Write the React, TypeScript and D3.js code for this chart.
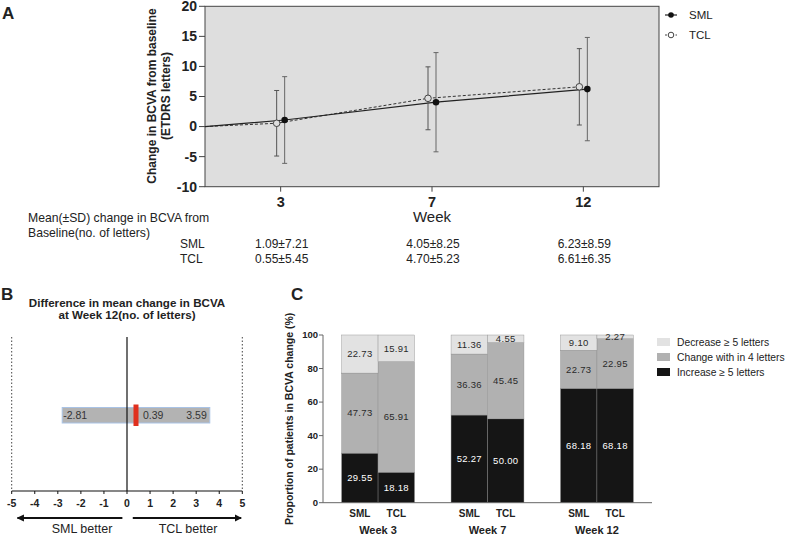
import React from "react";
import * as d3 from "d3";

// ---------- Panel A data ----------
const weeks = ["3", "7", "12"];
const smlMean = [1.09, 4.05, 6.23];
const smlSD = [7.21, 8.25, 8.59];
const tclMean = [0.55, 4.7, 6.61];
const tclSD = [5.45, 5.23, 6.35];
const yTicksA = [-10, -5, 0, 5, 10, 15, 20];
const smlText = ["1.09±7.21", "4.05±8.25", "6.23±8.59"];
const tclText = ["0.55±5.45", "4.70±5.23", "6.61±6.35"];

// ---------- Panel B data ----------
const diffLow = -2.81;
const diffMean = 0.39;
const diffHigh = 3.59;
const xTicksB = [-5, -4, -3, -2, -1, 0, 1, 2, 3, 4, 5];

// ---------- Panel C data ----------
const groupsC = ["Week 3", "Week 7", "Week 12"];
const armsC = ["SML", "TCL"];
const increaseVals = [29.55, 18.18, 52.27, 50.0, 68.18, 68.18];
const changeVals = [47.73, 65.91, 36.36, 45.45, 22.73, 29.55];
const decreaseVals = [22.73, 15.91, 11.36, 4.55, 9.1, 2.27];
const increaseLabels = ["29.55", "18.18", "52.27", "50.00", "68.18", "68.18"];
const changeLabels = ["47.73", "65.91", "36.36", "45.45", "22.73", "22.95"];
const decreaseLabels = ["22.73", "15.91", "11.36", "4.55", "9.10", "2.27"];
const yTicksC = [0, 20, 40, 60, 80, 100];
const legendC = ["Decrease ≥ 5 letters", "Change with in 4 letters", "Increase ≥ 5 letters"];
const colorsC = ["#e2e2e2", "#b1b1b1", "#151515"];

const FONT = "'Liberation Sans', Arial, Helvetica, sans-serif";

export default function App() {
  // ===== Panel A =====
  const xA = d3.scalePoint<string>().domain(weeks).range([205, 659]).padding(0.5);
  const yA = d3.scaleLinear().domain([-10, 20]).range([186.7, 6.3]);
  const x0A = xA.range()[0];
  const offS = 4;
  const offT = -4;
  const lineA = d3.line<[number, number]>().x((d) => d[0]).y((d) => yA(d[1]));
  const smlPts: [number, number][] = [[x0A, 0], ...weeks.map((w, i) => [xA(w)! + offS, smlMean[i]] as [number, number])];
  const tclPts: [number, number][] = [[x0A, 0], ...weeks.map((w, i) => [xA(w)! + offT, tclMean[i]] as [number, number])];

  // ===== Panel B =====
  const xB = d3.scaleLinear().domain([-5, 5]).range([11.7, 242.3]);
  const yBaseB = 491;
  const topB = 337;
  const boxY = 407.5;
  const boxH = 15.5;

  // ===== Panel C =====
  const xC = d3.scaleBand<string>().domain(groupsC).range([323, 652]).paddingInner(0.334).paddingOuter(0.17);
  const armX = d3.scaleBand<string>().domain(armsC).range([0, xC.bandwidth()]);
  const yC = d3.scaleLinear().domain([0, 100]).range([502.7, 335]);
  const stackData = increaseVals.map((v, i) => ({ inc: v, chg: changeVals[i], dec: decreaseVals[i], i }));
  const series = d3.stack<any>().keys(["inc", "chg", "dec"])(stackData);
  const labelsBySeries = [increaseLabels, changeLabels, decreaseLabels];
  const colorsBySeries = [colorsC[2], colorsC[1], colorsC[0]];
  const textColorBySeries = ["#ffffff", "#2a2a2a", "#2a2a2a"];

  return (
    <svg width={788} height={536} style={{ position: "absolute", left: 0, top: 0, fontFamily: FONT }}>
      <rect width={788} height={536} fill="#ffffff" />
      {/* ===== Panel A ===== */}
      <text x={2} y={19} fontSize={17} fontWeight="bold" fill="#222">A</text>
      <rect x={205} y={yA(20)} width={659 - 205} height={yA(-10) - yA(20)} fill="#dedede" stroke="#444" strokeWidth={1} />
      {yTicksA.map((t) => (
        <g key={t}>
          <line x1={199} x2={205} y1={yA(t)} y2={yA(t)} stroke="#444" />
          <text x={197} y={yA(t)} dy="0.35em" textAnchor="end" fontSize={14} fontWeight="bold" fill="#222">{t}</text>
        </g>
      ))}
      {weeks.map((w) => (
        <g key={w}>
          <line x1={xA(w)} x2={xA(w)} y1={yA(-10)} y2={yA(-10) + 5} stroke="#444" />
          <text x={xA(w)} y={206.5} textAnchor="middle" fontSize={14.5} fontWeight="bold" fill="#222">{w}</text>
        </g>
      ))}
      <text x={432} y={222} textAnchor="middle" fontSize={15} fill="#222">Week</text>
      <g transform="translate(156,96) rotate(-90)">
        <text x={0} y={0} textAnchor="middle" fontSize={12} fontWeight="bold" fill="#222">Change in BCVA from baseline</text>
        <text x={0} y={14} textAnchor="middle" fontSize={12} fontWeight="bold" fill="#222">(ETDRS letters)</text>
      </g>
      {/* lines */}
      <path d={lineA(tclPts)!} fill="none" stroke="#333" strokeWidth={1} strokeDasharray="3,2" />
      <path d={lineA(smlPts)!} fill="none" stroke="#222" strokeWidth={1.2} />
      {/* error bars */}
      {weeks.map((w, i) => {
        const xs = xA(w)! + offS;
        const xt = xA(w)! + offT;
        return (
          <g key={"eb" + w}>
            <line x1={xt} x2={xt} y1={yA(tclMean[i] - tclSD[i])} y2={yA(tclMean[i] + tclSD[i])} stroke="#555" strokeWidth={1} />
            <line x1={xt - 2.5} x2={xt + 2.5} y1={yA(tclMean[i] - tclSD[i])} y2={yA(tclMean[i] - tclSD[i])} stroke="#555" />
            <line x1={xt - 2.5} x2={xt + 2.5} y1={yA(tclMean[i] + tclSD[i])} y2={yA(tclMean[i] + tclSD[i])} stroke="#555" />
            <line x1={xs} x2={xs} y1={yA(smlMean[i] - smlSD[i])} y2={yA(smlMean[i] + smlSD[i])} stroke="#666" strokeWidth={1} />
            <line x1={xs - 2.5} x2={xs + 2.5} y1={yA(smlMean[i] - smlSD[i])} y2={yA(smlMean[i] - smlSD[i])} stroke="#666" />
            <line x1={xs - 2.5} x2={xs + 2.5} y1={yA(smlMean[i] + smlSD[i])} y2={yA(smlMean[i] + smlSD[i])} stroke="#666" />
            <circle cx={xt} cy={yA(tclMean[i])} r={3.3} fill="#dedede" stroke="#444" strokeWidth={1} />
            <circle cx={xs} cy={yA(smlMean[i])} r={3.3} fill="#111" />
          </g>
        );
      })}
      {/* legend A */}
      <line x1={665} x2={677} y1={15} y2={15} stroke="#222" strokeWidth={1.2} />
      <circle cx={671} cy={15} r={2.8} fill="#111" />
      <text x={689} y={15} dy="0.35em" fontSize={11.5} fill="#222">SML</text>
      <line x1={665} x2={677} y1={35} y2={35} stroke="#444" strokeDasharray="2,1.5" />
      <circle cx={671} cy={35} r={2.8} fill="#fff" stroke="#444" />
      <text x={689} y={35} dy="0.35em" fontSize={11.5} fill="#222">TCL</text>
      {/* table */}
      <text x={28} y={218} dy="0.35em" fontSize={12.2} fill="#222">Mean(±SD) change in BCVA from</text>
      <text x={28} y={233} dy="0.35em" fontSize={12.2} fill="#222">Baseline(no. of letters)</text>
      <text x={180} y={243.5} dy="0.35em" fontSize={12} fill="#222">SML</text>
      <text x={180} y={258.5} dy="0.35em" fontSize={12} fill="#222">TCL</text>
      {weeks.map((w, i) => (
        <g key={"tb" + w}>
          <text x={xA(w)! + 1} y={243.5} dy="0.35em" textAnchor="middle" fontSize={12} fill="#222">{smlText[i]}</text>
          <text x={xA(w)! + 1} y={258.5} dy="0.35em" textAnchor="middle" fontSize={12} fill="#222">{tclText[i]}</text>
        </g>
      ))}

      {/* ===== Panel B ===== */}
      <text x={1} y={300} fontSize={17} fontWeight="bold" fill="#222">B</text>
      <text x={127} y={302.5} dy="0.35em" textAnchor="middle" fontSize={11.6} fontWeight="bold" fill="#222">Difference in mean change in BCVA</text>
      <text x={127} y={315} dy="0.35em" textAnchor="middle" fontSize={11.6} fontWeight="bold" fill="#222">at Week 12(no. of letters)</text>
      <line x1={xB(-5)} x2={xB(-5)} y1={topB} y2={yBaseB} stroke="#444" strokeDasharray="1.5,2" />
      <line x1={xB(5)} x2={xB(5)} y1={topB} y2={yBaseB} stroke="#444" strokeDasharray="1.5,2" />
      <rect x={xB(diffLow)} y={boxY} width={xB(diffHigh) - xB(diffLow)} height={boxH} fill="#b3b3b3" stroke="#a9c3e6" strokeWidth={1} />
      <line x1={xB(0)} x2={xB(0)} y1={topB} y2={yBaseB} stroke="#111" strokeWidth={1.2} />
      <rect x={xB(diffMean) - 2.5} y={boxY - 3} width={5} height={boxH + 6} fill="#e0301e" />
      <text x={xB(diffLow) + 1} y={boxY + boxH / 2} dy="0.35em" fontSize={10.5} fill="#333">{diffLow.toFixed(2)}</text>
      <text x={xB(diffMean) + 7} y={boxY + boxH / 2} dy="0.35em" fontSize={10.5} fill="#333">{diffMean.toFixed(2)}</text>
      <text x={xB(diffHigh) - 3} y={boxY + boxH / 2} dy="0.35em" textAnchor="end" fontSize={10.5} fill="#333">{diffHigh.toFixed(2)}</text>
      <line x1={xB(-5)} x2={xB(5)} y1={yBaseB} y2={yBaseB} stroke="#111" strokeWidth={1.2} />
      {xTicksB.map((t) => (
        <g key={"bt" + t}>
          <line x1={xB(t)} x2={xB(t)} y1={yBaseB} y2={yBaseB + 3} stroke="#111" />
          <text x={xB(t)} y={503} dy="0.35em" textAnchor="middle" fontSize={10.5} fontWeight="bold" fill="#222">{t}</text>
        </g>
      ))}
      <defs>
        <marker id="arrowB" viewBox="0 0 10 10" refX={9} refY={5} markerWidth={4} markerHeight={4} orient="auto-start-reverse">
          <path d="M0,0 L10,5 L0,10 z" fill="#111" />
        </marker>
      </defs>
      <line x1={xB(-0.2)} x2={xB(-4.75)} y1={518} y2={518} stroke="#111" strokeWidth={1.8} markerEnd="url(#arrowB)" />
      <line x1={xB(0.25)} x2={xB(4.95)} y1={518} y2={518} stroke="#111" strokeWidth={1.8} markerEnd="url(#arrowB)" />
      <text x={82} y={529} dy="0.35em" textAnchor="middle" fontSize={12.5} fill="#222">SML better</text>
      <text x={188} y={529} dy="0.35em" textAnchor="middle" fontSize={12.5} fill="#222">TCL better</text>

      {/* ===== Panel C ===== */}
      <text x={291} y={300} fontSize={17} fontWeight="bold" fill="#222">C</text>
      <g transform={`translate(289,${(yC(0) + yC(100)) / 2}) rotate(-90)`}>
        <text x={0} y={0} dy="0.35em" textAnchor="middle" fontSize={10.5} fontWeight="bold" fill="#222">Proportion of patients in BCVA change (%)</text>
      </g>
      {series.map((s, si) => (
        <g key={"s" + si}>
          {s.map((d, j) => {
            const g = groupsC[Math.floor(j / 2)];
            const a = armsC[j % 2];
            const x = xC(g)! + armX(a)!;
            const w = armX.bandwidth();
            return (
              <g key={j}>
                <rect x={x} y={yC(d[1])} width={w} height={yC(d[0]) - yC(d[1])} fill={colorsBySeries[si]} stroke="#8a8a8a" strokeWidth={0.4} />
                <text x={x + w / 2} y={(yC(d[0]) + yC(d[1])) / 2} dy="0.35em" textAnchor="middle" fontSize={9.5} fill={textColorBySeries[si]} letterSpacing={0.3}>
                  {labelsBySeries[si][j]}
                </text>
              </g>
            );
          })}
        </g>
      ))}
      <line x1={323} x2={323} y1={yC(100)} y2={yC(0)} stroke="#666" />
      <line x1={323} x2={652} y1={yC(0)} y2={yC(0)} stroke="#666" />
      {yTicksC.map((t) => (
        <g key={"ct" + t}>
          <line x1={319} x2={323} y1={yC(t)} y2={yC(t)} stroke="#666" />
          <text x={318} y={yC(t)} dy="0.35em" textAnchor="end" fontSize={9.5} fontWeight="bold" fill="#222">{t}</text>
        </g>
      ))}
      {groupsC.map((g) => (
        <g key={"cg" + g}>
          {armsC.map((a) => (
            <text key={a} x={xC(g)! + armX(a)! + armX.bandwidth() / 2} y={513} dy="0.35em" textAnchor="middle" fontSize={10} fontWeight="bold" fill="#222">{a}</text>
          ))}
          <text x={xC(g)! + xC.bandwidth() / 2} y={530} dy="0.35em" textAnchor="middle" fontSize={11} fontWeight="bold" fill="#222">{g}</text>
        </g>
      ))}
      {legendC.map((l, i) => (
        <g key={"lc" + i}>
          <rect x={657} y={342 + i * 15 - 4} width={13} height={8} fill={colorsC[i]} />
          <text x={677} y={342 + i * 15} dy="0.35em" fontSize={10.3} fill="#222">{l}</text>
        </g>
      ))}
    </svg>
  );
}
